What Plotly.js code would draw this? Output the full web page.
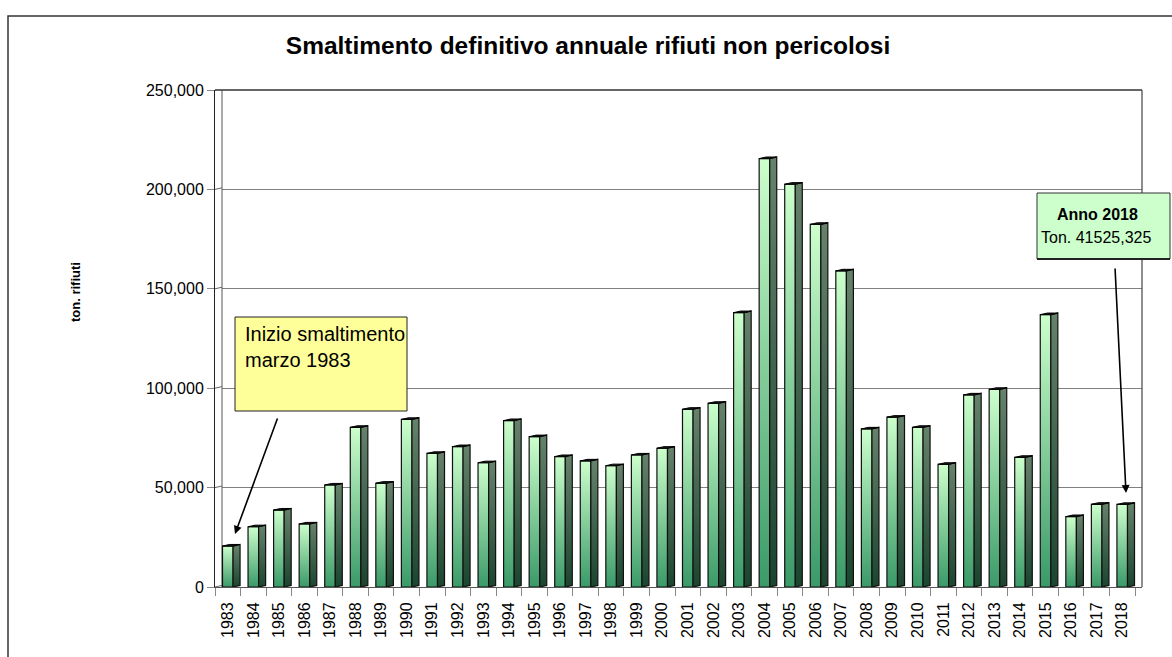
<!DOCTYPE html>
<html>
<head>
<meta charset="utf-8">
<script src="https://cdn.plot.ly/plotly-3.0.1.min.js"></script>
<style>html,body{margin:0;padding:0;background:#fff;}#chart{width:1172px;height:657px;}</style>
</head>
<body>
<div id="chart"></div>
<script>
// ---- data ----
const years = ['1983','1984','1985','1986','1987','1988','1989','1990','1991','1992','1993','1994',
  '1995','1996','1997','1998','1999','2000','2001','2002','2003','2004','2005','2006',
  '2007','2008','2009','2010','2011','2012','2013','2014','2015','2016','2017','2018'];
const tonnes = [20600,30300,38700,31700,51300,80300,52200,84300,67200,70600,62500,83700,
  75600,65600,63400,61000,66400,69800,89400,92400,138000,215500,202600,182400,
  159000,79500,85400,80300,61700,96600,99400,65200,137000,35400,41600,41525];
const yTicks = [0,50000,100000,150000,200000,250000];
const yTickText = ['0','50,000','100,000','150,000','200,000','250,000'];

// ---- geometry helpers (pixel layout of the frame) ----
const L = 215, R = 30, T = 90, B = 70, W = 1172, H = 657;
const PW = W - L - R, PH = H - T - B;
const depth = 0.274;      // 3-D depth in category units
const half = 0.207;       // half width of bar front face
const lift = 800;         // 3-D depth rise in value units
const px = v => (v - L) / PW;        // page x -> paper
const py = v => (H - B - v) / PH;    // page y -> paper

const FONT = 'Liberation Sans, Arial, sans-serif';
const traces = [];
const topX = [], topY = [];
tonnes.forEach((v, i) => {
  const x0 = i - half, x1 = i + half, x2 = x1 + depth;
  traces.push({
    type: 'scatter', mode: 'lines', x: [x0, x1, x1, x0, x0], y: [0, 0, v, v, 0],
    fill: 'toself', fillcolor: '#8fd3a8',
    fillgradient: {type: 'vertical', colorscale: [[0, '#3a9a68'], [1, '#ccffcc']]},
    line: {color: '#111', width: 1.2}, hoverinfo: 'skip', showlegend: false
  });
  traces.push({
    type: 'scatter', mode: 'lines', x: [x1, x2, x2, x1, x1], y: [0, lift, v + lift, v, 0],
    fill: 'toself', fillcolor: '#3f6450',
    fillgradient: {type: 'vertical', colorscale: [[0, '#1b452f'], [1, '#66826b']]},
    line: {color: '#111', width: 1.2}, hoverinfo: 'skip', showlegend: false
  });
  topX.push(x0, x0 + depth, x2, x1, x0, null);
  topY.push(v, v + lift, v + lift, v, v, null);
});
traces.push({
  type: 'scatter', mode: 'lines', x: topX, y: topY, fill: 'toself', fillcolor: '#1a1a1a',
  line: {color: '#000', width: 1}, hoverinfo: 'skip', showlegend: false, connectgaps: false
});

const shapes = [];
// outer chart frame
shapes.push({type: 'rect', xref: 'paper', yref: 'paper', x0: px(8), x1: px(1185), y0: py(675), y1: py(16),
  line: {color: '#333', width: 1.5}, fillcolor: 'rgba(0,0,0,0)', layer: 'above'});
// mask between front axis and back wall
shapes.push({type: 'rect', xref: 'x', yref: 'y', x0: -0.5, x1: -0.5 + depth, y0: 0, y1: yTicks[yTicks.length - 1],
  fillcolor: '#fff', line: {width: 0}, layer: 'between'});
// back wall left edge
shapes.push({type: 'line', xref: 'x', yref: 'y', x0: -0.5 + depth, x1: -0.5 + depth, y0: 0, y1: yTicks[yTicks.length - 1],
  line: {color: '#555', width: 1}, layer: 'between'});
// little diagonals from ticks to back wall
yTicks.forEach(t => shapes.push({type: 'line', xref: 'x', yref: 'y', x0: -0.5, x1: -0.5 + depth, y0: t, y1: t + lift,
  line: {color: '#666', width: 1}, layer: 'between'}));
// top border and right border of plot
shapes.push({type: 'line', xref: 'paper', yref: 'paper', x0: 0, x1: 1, y0: 1, y1: 1, line: {color: '#333', width: 1.5}});
shapes.push({type: 'line', xref: 'paper', yref: 'paper', x0: 1, x1: 1, y0: 0, y1: 1, line: {color: '#444', width: 1.2}});
// callout boxes
shapes.push({type: 'rect', xref: 'paper', yref: 'paper', x0: px(235), x1: px(407), y0: py(411), y1: py(317),
  fillcolor: '#ffff99', line: {color: '#222', width: 1}, layer: 'above'});
shapes.push({type: 'rect', xref: 'paper', yref: 'paper', x0: px(1037), x1: px(1170), y0: py(259), y1: py(193),
  fillcolor: '#ccffcc', line: {color: '#333', width: 1}, layer: 'above'});
shapes.push({type: 'line', xref: 'paper', yref: 'paper', x0: px(1037), x1: px(1170), y0: py(259), y1: py(259),
  line: {color: '#222', width: 2}, layer: 'above'});

const annotations = [
  {xref: 'paper', yref: 'paper', x: px(243), y: py(321), xanchor: 'left', yanchor: 'top', align: 'left',
   text: 'Inizio smaltimento<br>marzo 1983', showarrow: false, font: {family: FONT, size: 20, color: '#000'}},
  {xref: 'paper', yref: 'paper', x: px(1097), y: py(214), xanchor: 'center', yanchor: 'middle',
   text: '<b>Anno 2018</b>', showarrow: false, font: {family: FONT, size: 16, color: '#000'}},
  {xref: 'paper', yref: 'paper', x: px(1096), y: py(237), xanchor: 'center', yanchor: 'middle',
   text: 'Ton. 41525,325', showarrow: false, font: {family: FONT, size: 16, color: '#000'}},
  {xref: 'paper', yref: 'paper', x: px(235), y: py(534), text: '', showarrow: true,
   axref: 'pixel', ayref: 'pixel', ax: 43, ay: -117, arrowhead: 2, arrowsize: 1, arrowwidth: 1.6, arrowcolor: '#000'},
  {xref: 'paper', yref: 'paper', x: px(1126), y: py(493), text: '', showarrow: true,
   axref: 'pixel', ayref: 'pixel', ax: -11, ay: -226, arrowhead: 2, arrowsize: 1, arrowwidth: 1.6, arrowcolor: '#000'},
  {xref: 'paper', yref: 'paper', x: px(75), y: py(292), textangle: -90, xanchor: 'center', yanchor: 'middle',
   text: '<b>ton. rifiuti</b>', showarrow: false, font: {family: FONT, size: 13, color: '#000'}}
];

const layout = {
  width: W, height: H,
  margin: {l: L, r: R, t: T, b: B, pad: 0},
  paper_bgcolor: '#fff', plot_bgcolor: '#fff',
  showlegend: false,
  title: {text: '<b>Smaltimento definitivo annuale rifiuti non pericolosi</b>',
    xref: 'container', yref: 'container', x: 588 / W, y: 1 - 45 / H, xanchor: 'center', yanchor: 'middle',
    font: {family: FONT, size: 24.5, color: '#000'}},
  xaxis: {
    range: [-0.5, years.length - 0.5 + depth], tickmode: 'array',
    tickvals: years.map((_, i) => i), ticktext: years, tickangle: -90,
    ticks: '', showgrid: false, zeroline: false, showline: true, linecolor: '#555', linewidth: 1,
    tickfont: {family: FONT, size: 16, color: '#000'}, ticklabelstandoff: 8,
    minor: {tickmode: 'array', tickvals: years.map((_, i) => i - 0.5).concat([years.length - 0.5]),
      ticks: 'outside', ticklen: 8, tickcolor: '#888', tickwidth: 1, showgrid: false},
    fixedrange: true
  },
  yaxis: {
    range: [0, yTicks[yTicks.length - 1]], tickmode: 'array', tickvals: yTicks, ticktext: yTickText,
    ticks: 'outside', ticklen: 7, tickcolor: '#888', tickwidth: 1,
    showgrid: true, gridcolor: '#808080', gridwidth: 1, zeroline: false,
    showline: true, linecolor: '#222', linewidth: 1,
    tickfont: {family: FONT, size: 16, color: '#000'}, fixedrange: true
  },
  shapes: shapes,
  annotations: annotations
};

Plotly.newPlot('chart', traces, layout, {displayModeBar: false, staticPlot: true});
</script>
</body>
</html>
